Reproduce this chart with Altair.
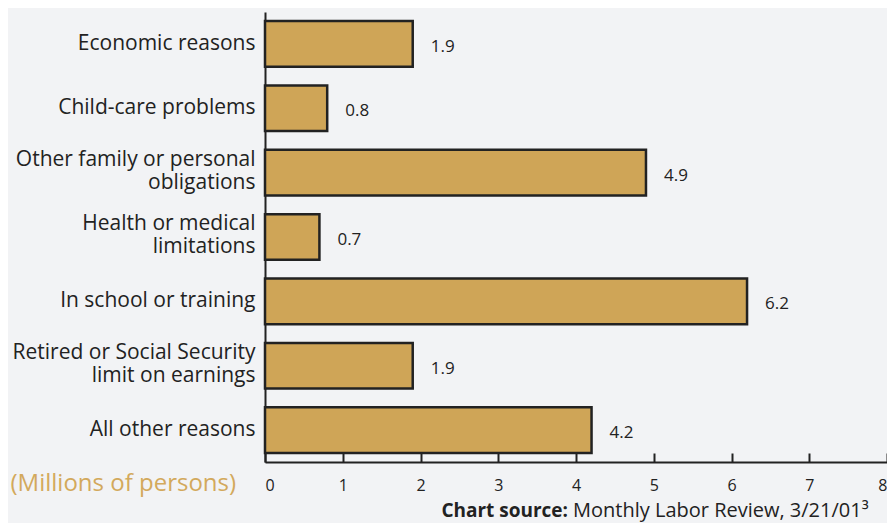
import altair as alt
import pandas as pd

categories = [
    "Economic reasons",
    "Child-care problems",
    "Other family or personal\nobligations",
    "Health or medical\nlimitations",
    "In school or training",
    "Retired or Social Security\nlimit on earnings",
    "All other reasons",
]
values = [1.9, 0.8, 4.9, 0.7, 6.2, 1.9, 4.2]
x_ticks = [0, 1, 2, 3, 4, 5, 6, 7, 8]

df = pd.DataFrame({"reason": categories, "value": values,
                   "label": [f"{v:.1f}" for v in values]})

FONT = "Open Sans"
BAR = "#cfa557"
INK = "#222222"
GOLD = "#d3a95c"

x_scale = alt.Scale(domain=[0, 8], nice=False, zero=True)
y_enc = alt.Y("reason:N", sort=None, title=None,
              scale=alt.Scale(paddingInner=0.29, paddingOuter=0.14),
              axis=alt.Axis(labelExpr="split(datum.label, '\\n')",
                            labelFont=FONT, labelFontSize=21, labelColor=INK,
                            labelLineHeight=23, labelPadding=10, labelLimit=300,
                            labelOffset={"condition": {"test": "indexof(datum.value, '\\n') >= 0",
                                                       "value": -13},
                                         "value": 0},
                            ticks=False, domainColor=INK, domainWidth=2))

bars = alt.Chart(df).mark_bar(color=BAR, stroke=INK, strokeWidth=2.5).encode(
    x=alt.X("value:Q", scale=x_scale,
            axis=alt.Axis(values=x_ticks, ticks=False, grid=False,
                          labelFont=FONT, labelFontSize=16, labelColor=INK,
                          labelPadding=15, domainColor=INK, domainWidth=2,
                          title="(Millions of persons)", titleFont=FONT,
                          titleFontSize=24, titleFontWeight="normal",
                          titleColor=GOLD, titleAnchor="start", titleAlign="left",
                          titleBaseline="middle", titleX=-255, titleY=21)),
    y=y_enc,
)

texts = alt.Chart(df).mark_text(align="left", baseline="middle", dx=18, dy=3,
                                font=FONT, fontSize=17, color=INK).encode(
    x=alt.X("value:Q", scale=x_scale,
            axis=alt.Axis(orient="top", offset=-450, values=x_ticks,
                          labels=False, domain=False, grid=False,
                          tickSize=9, tickWidth=2, tickColor=INK, title=None)),
    y=alt.Y("reason:N", sort=None),
    text="label:N",
)

src_bold = alt.Chart(pd.DataFrame({"t": ["Chart source:"]})).mark_text(
    align="right", baseline="alphabetic", font=FONT, fontSize=19, fontWeight="bold",
    color=INK).encode(x=alt.value(303), y=alt.value(505), text="t:N")
src_norm = alt.Chart(pd.DataFrame({"t": ["Monthly Labor Review, 3/21/01³"]})).mark_text(
    align="left", baseline="alphabetic", font=FONT, fontSize=20, color=INK).encode(
    x=alt.value(308), y=alt.value(505), text="t:N")

chart = alt.layer(bars, texts, src_bold, src_norm).resolve_axis(
    x="independent"
).properties(
    width=622, height=450,
    autosize=alt.AutoSizeParams(type="none"),
    padding={"left": 257, "top": 4, "right": 0, "bottom": 61},
    background="#f2f3f5",
).configure_view(stroke=None)

chart.save("out.html", embed_options={"renderer": "svg", "actions": False})
